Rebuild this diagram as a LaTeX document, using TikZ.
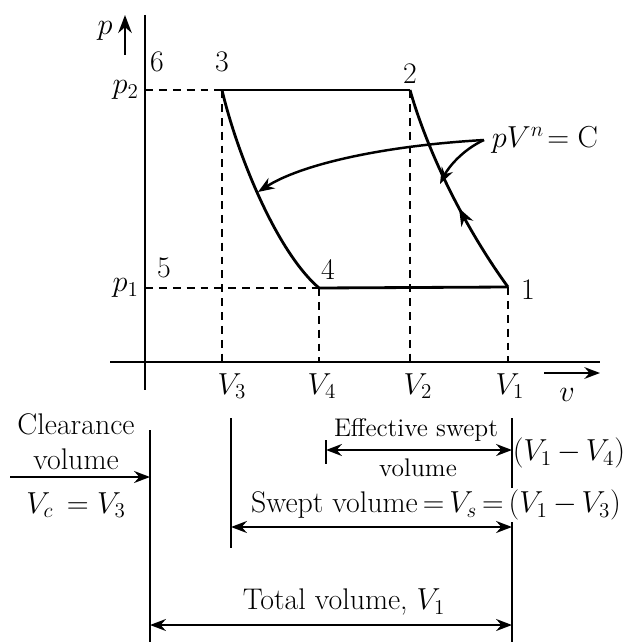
\documentclass[tikz,border=0pt]{standalone}
\usepackage{amsmath}
\usepackage{tikz}
\usetikzlibrary{arrows.meta, positioning, decorations.markings}

\begin{document}
\begin{tikzpicture}[x=0.02cm, y=-0.02cm, >=Stealth, font=\fontsize{17}{20}\selectfont,
  curve/.style={line width=1.6pt},
  guide/.style={line width=1.3pt, dash pattern=on 4.5pt off 3.4pt},
  dim/.style={line width=1.4pt, {Stealth[length=9pt]}-{Stealth[length=9pt]}},
  small/.style={font=\fontsize{14.5}{17}\selectfont, inner sep=1pt}]
  \useasboundingbox (0,0) rectangle (625,642);
  \coordinate (ptop) at (145,15);
  \coordinate (pbot) at (145,390);
  \coordinate (vleft) at (110,362);
  \coordinate (vright) at (600,362);
  \coordinate (s3) at (222,90);
  \coordinate (s2) at (410,90);
  \coordinate (s1) at (508,287);
  \coordinate (s4) at (319,288);
  \coordinate (p2) at (145,90);
  \coordinate (p1) at (145,288);
  \coordinate (tag) at (484,140);

  \draw[curve] (ptop) -- (pbot);
  \draw[curve] (vleft) -- (vright);
  \draw[curve, ->] (125,55) -- (125,15) node[left=3pt, pos=0.6] {$p$};
  \draw[line width=1.3pt, ->] (544,373) -- (600,373);
  \node at (567,395) {$v$};

  \draw[guide] (p2) -- (s3);
  \draw[guide] (p1) -- (s4);
  \draw[guide] (s3) -- (s3 |- vleft);
  \draw[guide] (s4) -- (s4 |- vleft);
  \draw[guide] (s2) -- (s2 |- vleft);
  \draw[guide] (s1) -- (s1 |- vleft);

  \draw[curve] (s3) -- (s2);
  \draw[curve] (s4) -- (s1);
  \draw[curve] (s3) .. controls (236,150) and (275,250) .. (s4);
  \draw[curve, decoration={markings, mark=at position 0.42 with {\arrow{Stealth[length=10pt]}}}, postaction=decorate]
    (s1) .. controls (470,235) and (430,160) .. (s2);

  \node[right=1pt] at (tag) {$pV^{n}\!=\mathrm{C}$};
  \draw[line width=1.4pt, ->] (tag) .. controls (380,146) and (300,165) .. (258,192);
  \draw[line width=1.4pt, ->] (tag) .. controls (462,150) and (448,168) .. (440,184);

  \node[left] at (p2) {$p_2$};
  \node[left] at (p1) {$p_1$};
  \node at (157,62) {6};
  \node at (222,62) {3};
  \node at (410,74) {2};
  \node at (164,268) {5};
  \node at (328,270) {4};
  \node at (528,290) {1};

  \node at (232,386) {$V_3$};
  \node at (322,386) {$V_4$};
  \node at (418,386) {$V_2$};
  \node at (510,386) {$V_1$};

  \coordinate (c0) at (150,430);
  \coordinate (c1) at (150,642);
  \coordinate (w0) at (231,418);
  \coordinate (w1) at (231,548);
  \coordinate (e0) at (326,440);
  \coordinate (e1) at (326,464);
  \coordinate (t0) at (512,418);
  \coordinate (t1) at (512,642);
  \draw[curve] (c0) -- (c1);
  \draw[curve] (w0) -- (w1);
  \draw[curve] (e0) -- (e1);
  \draw[curve] (t0) -- (t1);

  \node[align=center] (clear) at (76,442) {Clearance\\volume};
  \coordinate (cin) at (10,477);
  \draw[line width=1.4pt, -{Stealth[length=9pt]}] (cin) -- (cin -| c0);
  \node at (76,505) {$V_c\,=V_3$};

  \draw[dim] (326,450) -- (512,450);
  \node[small] at (416,430) {Effective swept};
  \node[small] at (418,468) {volume};
  \node[inner sep=1pt] at (569,453) {$(V_1\,{-}\,V_4)$};

  \node[fill=white, inner sep=1pt] at (436,505) {Swept volume\,=\,$V_s$\,=\,$(V_1\,{-}\,V_3)$};
  \draw[dim] (231,527) -- (512,527);

  \node at (344,602) {Total volume, $V_1$};
  \draw[dim] (150,625) -- (512,625);
\end{tikzpicture}
\end{document}
